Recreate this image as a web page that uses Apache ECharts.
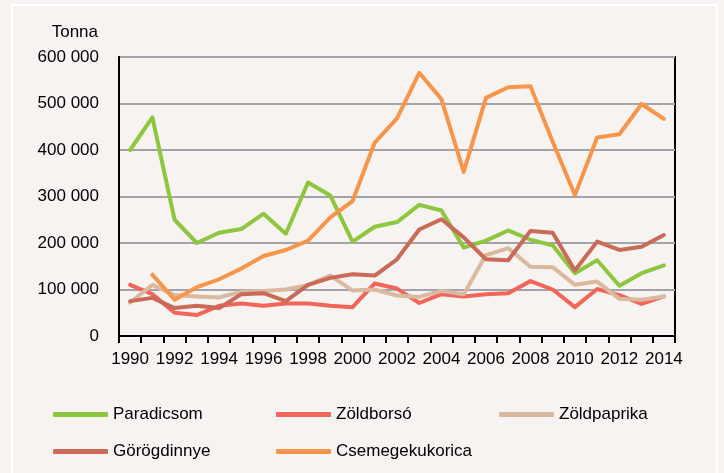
<!DOCTYPE html>
<html lang="hu">
<head>
    <meta charset="UTF-8" />
    <title>Zöldségtermelés</title>
    <script src="https://cdn.jsdelivr.net/npm/echarts@6/dist/echarts.min.js"></script>
    <style>
        html, body { margin: 0; padding: 0; background: #f6f3f0; }
    </style>
</head>
<body>
    <div id="main" style="width: 724px; height: 473px"></div>
    <script>
        // évek
        var years = ["1990", "1991", "1992", "1993", "1994", "1995", "1996", "1997", "1998", "1999",
            "2000", "2001", "2002", "2003", "2004", "2005", "2006", "2007", "2008", "2009",
            "2010", "2011", "2012", "2013", "2014"];

        // termelés, tonna
        var paradicsom = [400000, 470000, 250000, 200000, 222000, 230000, 263000, 220000, 330000, 302000,
            203000, 235000, 245000, 282000, 270000, 190000, 205000, 227000, 207000, 195000,
            135000, 163000, 108000, 135000, 152000];
        var zoldborso = [110000, 90000, 50000, 45000, 65000, 70000, 65000, 70000, 70000, 65000,
            62000, 113000, 102000, 71000, 90000, 85000, 90000, 92000, 118000, 100000,
            62000, 101000, 88000, 69000, 85000];
        var zoldpaprika = [72000, 110000, 88000, 85000, 83000, 95000, 97000, 100000, 110000, 130000,
            98000, 100000, 87000, 84000, 97000, 90000, 174000, 189000, 149000, 148000,
            110000, 117000, 80000, 78000, 85000];
        var gorogdinnye = [75000, 82000, 60000, 65000, 60000, 90000, 92000, 75000, 110000, 125000,
            133000, 130000, 165000, 229000, 251000, 212000, 165000, 163000, 226000, 222000,
            141000, 203000, 185000, 192000, 217000];
        var csemegekukorica = [null, 132000, 78000, 105000, 122000, 145000, 172000, 185000, 205000, 255000,
            290000, 416000, 468000, 566000, 509000, 353000, 512000, 535000, 537000, 418000,
            303000, 427000, 434000, 499000, 467000];

        var names = ["Paradicsom", "Zöldborsó", "Zöldpaprika", "Görögdinnye", "Csemegekukorica"];
        var colors = ["#8dc63f", "#f2665a", "#d9b9a0", "#c96b58", "#f7964a"];
        var values = [paradicsom, zoldborso, zoldpaprika, gorogdinnye, csemegekukorica];

        var font = "'Liberation Sans', Arial, sans-serif";
        var fs = 17;

        // jelmagyarázat: 3 oszlop, 2 sor
        var legendPos = [[48, 401], [271, 401], [494, 401], [48, 438], [271, 438]];
        var legends = names.map(function (n, i) {
            return {
                left: legendPos[i][0],
                top: legendPos[i][1],
                data: [n],
                icon: "roundRect",
                itemWidth: 55,
                itemHeight: 5,
                textStyle: { fontFamily: font, fontSize: fs, color: "#000" },
                selectedMode: false
            };
        });

        var series = names.map(function (n, i) {
            return {
                name: n,
                type: "line",
                data: values[i],
                symbol: "none",
                color: colors[i],
                lineStyle: { width: 4, color: colors[i], join: "round", cap: "round" },
                animation: false
            };
        });

        var myChart = echarts.init(document.getElementById("main"));

        var option = {
            backgroundColor: "#f6f3f0",
            textStyle: { fontFamily: font },
            graphic: [{
                type: "rect",
                shape: { x: 12, y: 5, width: 705, height: 480 },
                style: { fill: "none", stroke: "#ffffff", lineWidth: 2 },
                silent: true
            }],
            legend: legends,
            grid: {
                left: 119, top: 57, right: 49, bottom: 137,
                show: true, borderColor: "#000", borderWidth: 2,
                containLabel: false
            },
            xAxis: {
                type: "category",
                data: years,
                boundaryGap: true,
                axisLine: { lineStyle: { color: "#000", width: 2 } },
                axisTick: { show: true, interval: 0, length: 7, lineStyle: { color: "#000", width: 2 } },
                axisLabel: { interval: 1, margin: 15, fontSize: fs, color: "#000", fontFamily: font }
            },
            yAxis: {
                type: "value",
                min: 0,
                max: 600000,
                interval: 100000,
                name: "Tonna",
                nameLocation: "end",
                nameGap: 16,
                nameTextStyle: { align: "right", padding: [0, 21, 0, 0], fontSize: fs, color: "#000", fontFamily: font },
                axisLine: { show: true, lineStyle: { color: "#000", width: 2 } },
                axisTick: { show: false },
                splitLine: { lineStyle: { color: "#a3a4ab", width: 2 } },
                axisLabel: {
                    margin: 20, fontSize: fs, color: "#000", fontFamily: font,
                    formatter: function (v) {
                        return String(v).replace(/\B(?=(\d{3})+(?!\d))/g, " ");
                    }
                }
            },
            series: series
        };

        myChart.setOption(option);
    </script>
</body>
</html>
